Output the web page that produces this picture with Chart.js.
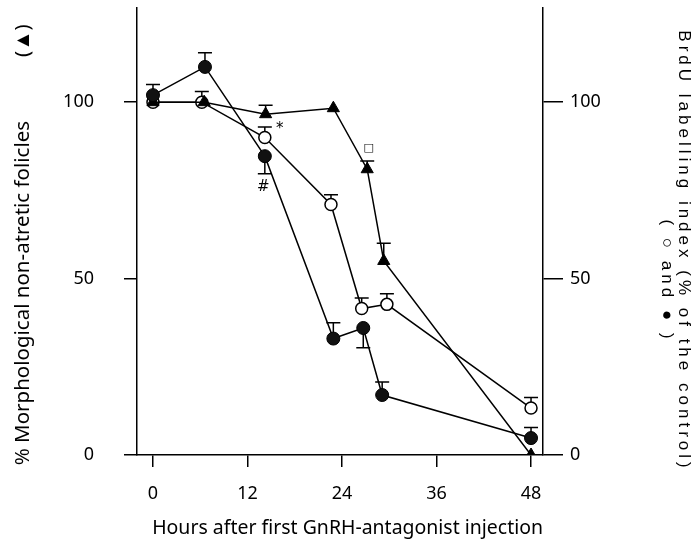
<!DOCTYPE html>
<html>
<head>
<meta charset="utf-8">
<script src="https://cdn.jsdelivr.net/npm/chart.js@4.4.1/dist/chart.umd.min.js"></script>
<style>
  body { margin: 0; background: #fff; }
  #wrap { width: 693px; height: 544px; }
</style>
</head>
<body>
<div id="wrap"><canvas id="myChart"></canvas></div>
<script>
  // hours after first injection, read per series (markers sit slightly apart in the figure)
  const triHours = [0, 6.5, 14.3, 22.9, 27.2, 29.3, 48];
  const triValues = [100, 100, 96.6, 98.3, 81, 55, 0];
  const triErr = [0, 0, 2.5, 0, 2.3, 5, 0];

  const openHours = [0, 6.2, 14.2, 22.6, 26.5, 29.7, 48];
  const openValues = [100, 100, 90, 71, 41.5, 42.7, 13.3];
  const openErr = [0, 3, 3, 2.8, 3, 3, 3];

  const filledHours = [0, 6.6, 14.2, 22.9, 26.7, 29.1, 48];
  const filledValues = [102, 110, 84.7, 33, 36, 17, 4.8];
  // negative = error bar drawn below the point
  const filledErr = [3, 4, -5, 4.5, -5.6, 3.7, 3];

  const xTicks = [0, 12, 24, 36, 48];
  const yTicks = [0, 50, 100];

  // significance marks
  const marks = ['*', '#', '\u25A1'];
  const markHours = [16.1, 14.0, 27.4];
  const markValues = [92.4, 76, 87];

  const toXY = (xs, ys) => xs.map((x, i) => ({ x: x, y: ys[i] }));

  Chart.defaults.font.family = 'Noto Sans';
  Chart.defaults.color = '#000';

  // no extra room for tick labels, the plot box fills the page edge to edge
  const noPad = s => { s.paddingTop = 0; s.paddingBottom = 0; s.paddingLeft = 0; s.paddingRight = 0; };

  const errorBars = {
    id: 'errorBars',
    beforeDatasetsDraw(chart) {
      const ctx = chart.ctx;
      const ys = chart.scales.y;
      ctx.save();
      ctx.strokeStyle = '#000';
      ctx.lineWidth = 1.5;
      chart.data.datasets.forEach((ds, i) => {
        const meta = chart.getDatasetMeta(i);
        ds.err.forEach((e, j) => {
          if (!e) return;
          const p = meta.data[j];
          const yEnd = ys.getPixelForValue(ds.data[j].y + e);
          ctx.beginPath();
          ctx.moveTo(p.x, p.y);
          ctx.lineTo(p.x, yEnd);
          ctx.moveTo(p.x - 7, yEnd);
          ctx.lineTo(p.x + 7, yEnd);
          ctx.stroke();
        });
      });
      ctx.restore();
    }
  };

  const extras = {
    id: 'extras',
    afterDraw(chart) {
      const ctx = chart.ctx;
      const xs = chart.scales.x, ys = chart.scales.y;
      ctx.save();
      ctx.fillStyle = '#000';
      ctx.textAlign = 'center';
      ctx.textBaseline = 'middle';
      marks.forEach((m, i) => {
        ctx.font = (m === '\u25A1' ? '11px' : '15px') + ' "DejaVu Sans"';
        ctx.fillText(m, xs.getPixelForValue(markHours[i]), ys.getPixelForValue(markValues[i]));
      });
      // right axis title, letter-spaced like the original
      ctx.font = '17px "Liberation Sans"';
      ctx.letterSpacing = '4px';
      ctx.translate(684, 251);
      ctx.rotate(Math.PI / 2);
      ctx.fillText('BrdU labelling index (% of the control)', 0, 0);
      ctx.fillText('( \u25CB and \u25CF )', 30, 17);
      ctx.restore();
    }
  };

  const ctx = document.getElementById('myChart');

  new Chart(ctx, {
    type: 'line',
    data: {
      datasets: [{
        label: 'BrdU (filled)',
        data: toXY(filledHours, filledValues),
        err: filledErr,
        borderColor: '#000',
        borderWidth: 1.5,
        pointStyle: 'circle',
        pointRadius: 6.5,
        pointBackgroundColor: '#111',
        pointBorderColor: '#000',
        pointBorderWidth: 1
      }, {
        label: 'Non-atretic follicles',
        data: toXY(triHours, triValues),
        err: triErr,
        borderColor: '#000',
        borderWidth: 1.5,
        pointStyle: 'triangle',
        pointRadius: 7,
        pointBackgroundColor: '#000',
        pointBorderColor: '#000',
        pointBorderWidth: 1
      }, {
        label: 'BrdU (open)',
        data: toXY(openHours, openValues),
        err: openErr,
        borderColor: '#000',
        borderWidth: 1.5,
        pointStyle: 'circle',
        pointRadius: 6,
        pointBackgroundColor: '#fff',
        pointBorderColor: '#000',
        pointBorderWidth: 1.5
      }]
    },
    options: {
      responsive: true,
      maintainAspectRatio: false,
      animation: false,
      layout: { padding: 0 },
      plugins: { legend: { display: false }, tooltip: { enabled: false } },
      scales: {
        x: {
          type: 'linear',
          min: -2.03,
          max: 49.52,
          afterBuildTicks: s => { s.ticks = xTicks.map(v => ({ value: v })); },
          afterFit: s => { s.height = 89; noPad(s); },
          grid: { drawOnChartArea: false, tickLength: 12, color: '#000', lineWidth: 1.5 },
          border: { color: '#000', width: 1.5 },
          ticks: { font: { size: 18 }, padding: 16, maxRotation: 0 },
          title: {
            display: true,
            text: '   Hours after first GnRH-antagonist injection',
            font: { size: 19.5 },
            padding: { top: 0, bottom: 4 }
          }
        },
        y: {
          position: 'left',
          min: 0,
          max: 126.7,
          afterBuildTicks: s => { s.ticks = yTicks.map(v => ({ value: v })); },
          afterFit: s => { s.width = 137; noPad(s); },
          grid: { drawOnChartArea: false, tickLength: 13, color: '#000', lineWidth: 1.5 },
          border: { color: '#000', width: 1.5 },
          ticks: { font: { size: 18 }, padding: 30 },
          title: {
            display: true,
            text: '% Morphological non-atretic folicles            (\u25B2)     ',
            font: { size: 20.5 },
            padding: { top: 11, bottom: 0 }
          }
        },
        y2: {
          position: 'right',
          min: 0,
          max: 126.7,
          afterBuildTicks: s => { s.ticks = yTicks.map(v => ({ value: v })); },
          afterFit: s => { s.width = 150; noPad(s); },
          grid: { drawOnChartArea: false, tickLength: 20, color: '#000', lineWidth: 1.5 },
          border: { color: '#000', width: 1.5 },
          ticks: { font: { size: 18 }, padding: 7 }
        }
      }
    },
    plugins: [errorBars, extras]
  });
</script>
</body>
</html>
